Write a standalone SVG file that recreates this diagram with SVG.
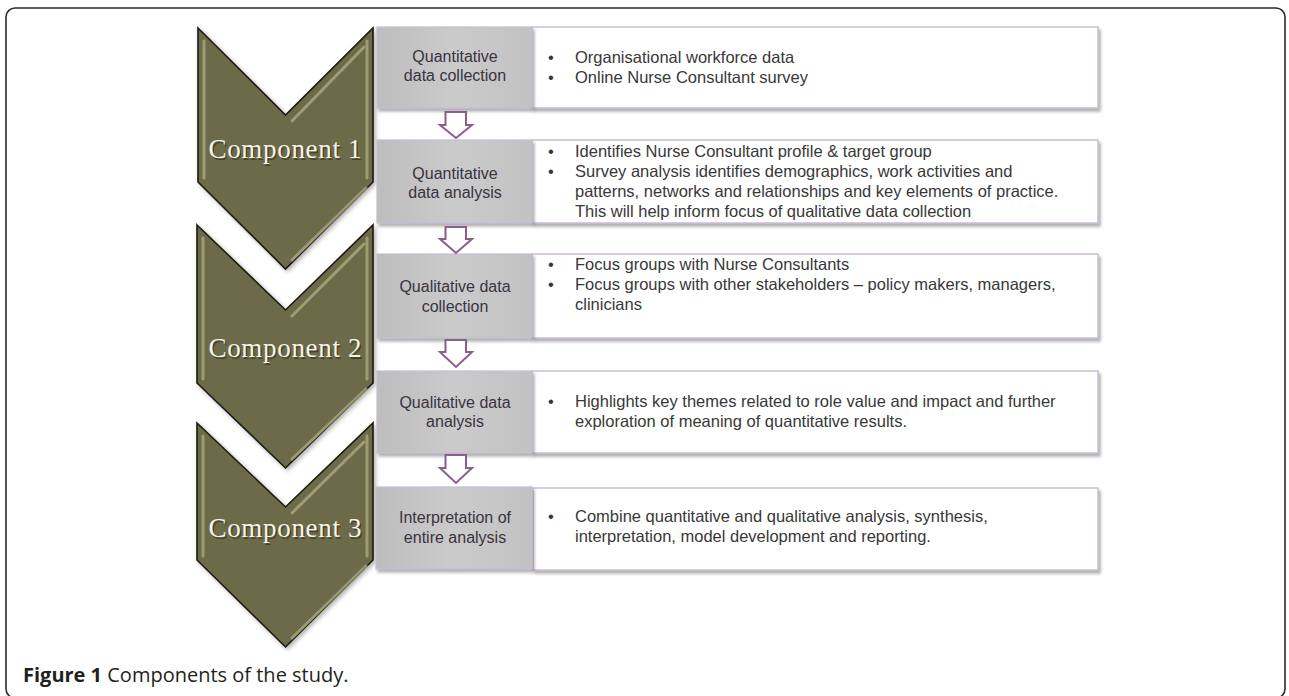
<svg xmlns="http://www.w3.org/2000/svg" width="1289" height="696" viewBox="0 0 1289 696">
<defs>
<style>
.frame{fill:none;stroke:#2b2b2b;stroke-width:1.6}
.chev{fill:#6d6b48;stroke:#1c1c14;stroke-width:1.6;stroke-linejoin:miter}
.bev{fill:none;stroke:#aeae82;stroke-width:3;stroke-linecap:round;opacity:.75}
.ctext{font-family:"Liberation Serif","Times New Roman",serif;font-size:27px;fill:#f6f4e8}
.cshadow{font-family:"Liberation Serif","Times New Roman",serif;font-size:27px;fill:#2a2a1c;opacity:.6}
.gbox{fill:url(#gg);stroke:#c9bcd2;stroke-width:1.2}
.wbox{fill:#ffffff;stroke:#cbbdd6;stroke-width:1.5}
.lbl{font-family:"Liberation Sans",Arial,sans-serif;font-size:16px;fill:#3a3340;text-anchor:middle}
.txt{font-family:"Liberation Sans",Arial,sans-serif;font-size:16.5px;fill:#383838}
.arr{fill:#ffffff;stroke:#8a5d8c;stroke-width:2;stroke-linejoin:miter}
.cap{font-family:"Open Sans","Noto Sans","Liberation Sans",sans-serif;font-size:20px;fill:#231f20}
</style>
<linearGradient id="gg" x1="0" y1="0" x2="1" y2="0">
<stop offset="0" stop-color="#bdbdbd"/>
<stop offset="0.5" stop-color="#cbcbcb"/>
<stop offset="1" stop-color="#c2c2c2"/>
</linearGradient>
<filter id="sh" x="-5%" y="-10%" width="115%" height="130%">
<feDropShadow dx="2" dy="3" stdDeviation="1.8" flood-color="#7a7a7a" flood-opacity="0.6"/>
</filter>
<filter id="csh" x="-10%" y="-10%" width="125%" height="125%">
<feDropShadow dx="2" dy="2" stdDeviation="2" flood-color="#000000" flood-opacity="0.3"/>
</filter>
</defs>
<rect width="1289" height="696" fill="#ffffff"/>
<rect class="frame" x="6" y="8" width="1279" height="690" rx="9" ry="9"/>

<g id="component3">
<polygon class="chev" filter="url(#csh)" points="197,423 285.5,507 373,423 373,560 285.5,647 197,560"/>
<polyline class="bev" points="203,436 203,556"/>
<polyline class="bev" points="367,436 367,556"/>
<polyline class="bev" points="292,513 364,442"/>
<polyline class="bev" points="366,566 292,638"/>
<text class="cshadow" x="286.5" y="538.5" text-anchor="middle" textLength="153">Component 3</text>
<text class="ctext" x="285" y="537" text-anchor="middle" textLength="153">Component 3</text>
</g>
<g id="component2">
<polygon class="chev" filter="url(#csh)" points="197,225 285.5,310 373,225 373,383 285.5,468 197,383"/>
<polyline class="bev" points="203,238 203,379"/>
<polyline class="bev" points="367,238 367,379"/>
<polyline class="bev" points="292,316 364,244"/>
<polyline class="bev" points="366,389 292,459"/>
<text class="cshadow" x="286.5" y="358.5" text-anchor="middle" textLength="153">Component 2</text>
<text class="ctext" x="285" y="357" text-anchor="middle" textLength="153">Component 2</text>
</g>
<g id="component1">
<polygon class="chev" filter="url(#csh)" points="198,28 285.5,115 373,28 373,182 285.5,269 198,182"/>
<polyline class="bev" points="204,41 204,178"/>
<polyline class="bev" points="367,41 367,178"/>
<polyline class="bev" points="292,121 364,47"/>
<polyline class="bev" points="366,188 292,260"/>
<text class="cshadow" x="286.5" y="159.5" text-anchor="middle" textLength="153">Component 1</text>
<text class="ctext" x="285" y="158" text-anchor="middle" textLength="153">Component 1</text>
</g>

<g id="step1">
<rect class="wbox" filter="url(#sh)" x="532" y="27" width="566" height="81"/>
<rect class="gbox" filter="url(#sh)" x="377" y="27" width="155" height="81"/>
<text class="lbl" x="455" y="62">Quantitative</text>
<text class="lbl" x="455" y="81">data collection</text>
<text class="txt" x="548" y="63">•</text><text class="txt" x="575" y="63">Organisational workforce data</text>
<text class="txt" x="548" y="83">•</text><text class="txt" x="575" y="83">Online Nurse Consultant survey</text>
</g>
<g id="step2">
<rect class="wbox" filter="url(#sh)" x="532" y="140" width="566" height="83"/>
<rect class="gbox" filter="url(#sh)" x="377" y="140" width="155" height="83"/>
<text class="lbl" x="455" y="179">Quantitative</text>
<text class="lbl" x="455" y="198">data analysis</text>
<text class="txt" x="548" y="157">•</text><text class="txt" x="575" y="157">Identifies Nurse Consultant profile &amp; target group</text>
<text class="txt" x="548" y="177">•</text><text class="txt" x="575" y="177">Survey analysis identifies demographics, work activities and</text>
<text class="txt" x="575" y="197">patterns, networks and relationships and key elements of practice.</text>
<text class="txt" x="575" y="217">This will help inform focus of qualitative data collection</text>
</g>
<g id="step3">
<rect class="wbox" filter="url(#sh)" x="532" y="254" width="566" height="84"/>
<rect class="gbox" filter="url(#sh)" x="377" y="254" width="155" height="84"/>
<text class="lbl" x="455" y="292">Qualitative data</text>
<text class="lbl" x="455" y="312">collection</text>
<text class="txt" x="548" y="270">•</text><text class="txt" x="575" y="270">Focus groups with Nurse Consultants</text>
<text class="txt" x="548" y="290">•</text><text class="txt" x="575" y="290">Focus groups with other stakeholders – policy makers, managers,</text>
<text class="txt" x="575" y="310">clinicians</text>
</g>
<g id="step4">
<rect class="wbox" filter="url(#sh)" x="532" y="371" width="566" height="82"/>
<rect class="gbox" filter="url(#sh)" x="377" y="371" width="155" height="82"/>
<text class="lbl" x="455" y="408">Qualitative data</text>
<text class="lbl" x="455" y="427">analysis</text>
<text class="txt" x="548" y="407">•</text><text class="txt" x="575" y="407">Highlights key themes related to role value and impact and further</text>
<text class="txt" x="575" y="427">exploration of meaning of quantitative results.</text>
</g>
<g id="step5">
<rect class="wbox" filter="url(#sh)" x="533" y="488" width="565" height="82"/>
<rect class="gbox" filter="url(#sh)" x="376" y="487" width="156" height="82"/>
<text class="lbl" x="455" y="523">Interpretation of</text>
<text class="lbl" x="455" y="543">entire analysis</text>
<text class="txt" x="548" y="522">•</text><text class="txt" x="575" y="522">Combine quantitative and qualitative analysis, synthesis,</text>
<text class="txt" x="575" y="542">interpretation, model development and reporting.</text>
</g>

<g id="connectors">
<polygon class="arr" points="445.5,112 466,112 466,125 472,125 456,138 440,125 445.5,125"/>
<polygon class="arr" points="445.5,227 466,227 466,239 472,239 456,253 440,239 445.5,239"/>
<polygon class="arr" points="445.5,340 466,340 466,352 472,352 456,367 440,352 445.5,352"/>
<polygon class="arr" points="445.5,455 466,455 466,468 472,468 456,483 440,468 445.5,468"/>
</g>

<text class="cap" x="23" y="682"><tspan font-weight="bold">Figure 1</tspan> Components of the study.</text>
</svg>
